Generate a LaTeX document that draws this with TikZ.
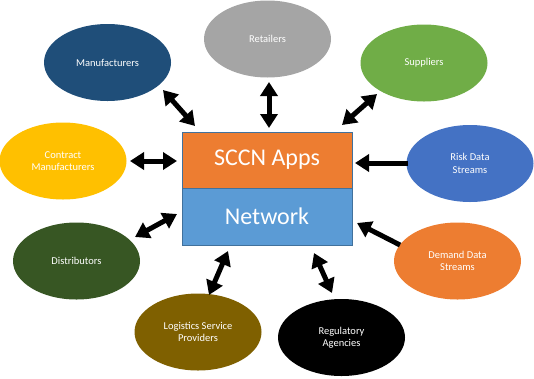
\documentclass[tikz,border=0pt]{standalone}
\usepackage{fontspec}
\setmainfont{Carlito}
\usetikzlibrary{shapes.geometric,arrows.meta}
\definecolor{cManu}{HTML}{1F4E79}
\definecolor{cRet}{HTML}{A5A5A5}
\definecolor{cSup}{HTML}{70AD47}
\definecolor{cCon}{HTML}{FFC000}
\definecolor{cRisk}{HTML}{4472C4}
\definecolor{cDist}{HTML}{375623}
\definecolor{cDem}{HTML}{ED7D31}
\definecolor{cLog}{HTML}{7F6000}
\definecolor{cReg}{HTML}{000000}
\definecolor{cOrange}{HTML}{ED7D31}
\definecolor{cBlue}{HTML}{5B9BD5}
\definecolor{cEdge}{HTML}{41719C}
\tikzset{
  bubble/.style={ellipse, inner sep=0pt, minimum width=127pt, minimum height=77pt,
    text=white, font=\fontsize{10.5}{12.5}\selectfont, align=center},
  layerbox/.style={rectangle, draw=cEdge, line width=0.8pt, inner sep=0pt,
    minimum width=170pt, text=white, font=\fontsize{24}{28}\selectfont},
  link/.style={line width=5pt, {Triangle[width=17pt,length=14pt]}-{Triangle[width=17pt,length=14pt]}},
  feed/.style={line width=5pt, -{Triangle[width=17pt,length=14pt]}}
}
\begin{document}
\begin{tikzpicture}[x=1pt,y=-1pt]
\useasboundingbox (0,0) rectangle (534,378);
% center
\node[layerbox, fill=cOrange, minimum height=56pt] (apps) at (267,160) {SCCN Apps};
\node[layerbox, fill=cBlue, minimum height=57pt] (net) at (267,216.5) {Network};
% bubbles
\node[bubble, fill=cManu] (manu) at (107.5,62.5) {Manufacturers};
\node[bubble, fill=cRet] (ret) at (267.5,39) {Retailers};
\node[bubble, fill=cSup] (sup) at (424,63) {Suppliers};
\node[bubble, fill=cCon] (con) at (63,161) {Contract\\Manufacturers};
\node[bubble, fill=cRisk] (risk) at (470,163.5) {Risk Data\\Streams};
\node[bubble, fill=cDist] (dist) at (76.5,261) {Distributors};
\node[bubble, fill=cDem] (dem) at (457.5,261) {Demand Data\\Streams};
\node[bubble, fill=cLog] (logi) at (198,332) {Logistics Service\\Providers};
\node[bubble, fill=cReg] (reg) at (341.5,337.5) {Regulatory\\Agencies};
% arrow ends
\coordinate (m1) at (163,90); \coordinate (m2) at (195,126);
\coordinate (r1) at (269,82); \coordinate (r2) at (269,128);
\coordinate (s1) at (377,94); \coordinate (s2) at (342,125);
\coordinate (c1) at (130,161); \coordinate (c2) at (177,161);
\coordinate (k1) at (408,163); \coordinate (k2) at (355,163);
\coordinate (d1) at (135,237); \coordinate (d2) at (177,214);
\coordinate (e1) at (400,245); \coordinate (e2) at (357,223);
\coordinate (l1) at (228,251); \coordinate (l2) at (209,295);
\coordinate (g1) at (314,253); \coordinate (g2) at (332,293);
% connectors
\draw[link] (m1) -- (m2);
\draw[link] (r1) -- (r2);
\draw[link] (s1) -- (s2);
\draw[link] (c1) -- (c2);
\draw[feed] (k1) -- (k2);
\draw[link] (d1) -- (d2);
\draw[feed] (e1) -- (e2);
\draw[link] (l1) -- (l2);
\draw[link] (g1) -- (g2);
\end{tikzpicture}
\end{document}
